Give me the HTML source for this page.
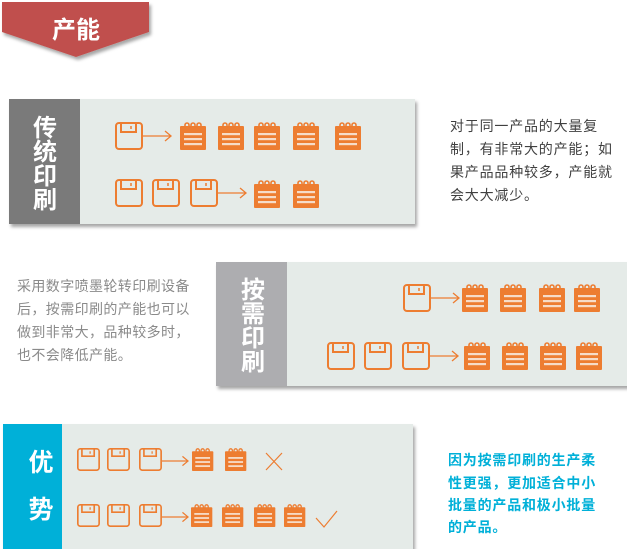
<!DOCTYPE html>
<html><head><meta charset="utf-8"><style>
html,body{margin:0;padding:0;background:#fff;width:627px;height:549px;overflow:hidden}
svg text{font-family:"Liberation Sans","Noto Sans CJK SC",sans-serif}
</style></head><body>
<svg width="627" height="549" viewBox="0 0 627 549" xmlns="http://www.w3.org/2000/svg">
<defs>
<filter id="sh" x="-5%" y="-5%" width="110%" height="115%"><feDropShadow dx="2" dy="3" stdDeviation="1.5" flood-color="#000" flood-opacity="0.35"/></filter>
<g id="fl"><rect x="1" y="1" width="26" height="26" rx="3" fill="none" stroke="#ed7d31" stroke-width="2"/><path d="M6 1V10H21V1" fill="none" stroke="#ed7d31" stroke-width="2"/><line x1="16" y1="4" x2="16" y2="7" stroke="#ed7d31" stroke-width="1.5"/></g>
<g id="np"><rect x="0" y="4" width="26" height="24" rx="1" fill="#ed7d31"/><path d="M5 6V3a2 2 0 0 1 4 0V6M11 6V3a2 2 0 0 1 4 0V6M17 6V3a2 2 0 0 1 4 0V6" fill="none" stroke="#ed7d31" stroke-width="1.6"/><rect x="4" y="11" width="18" height="2.2" fill="#f6dcc8"/><rect x="4" y="16" width="18" height="2.2" fill="#f6dcc8"/><rect x="4" y="21" width="18" height="2.2" fill="#f6dcc8"/></g>
<g id="ar"><line x1="0" y1="0" x2="28" y2="0" stroke="#ed7d31" stroke-width="1.3"/><path d="M22 -5L28 0L22 5" fill="none" stroke="#ed7d31" stroke-width="1.3"/></g>
</defs>
<polygon points="2,2 149,2 149,32 76,57 2,32" fill="#c0504d" filter="url(#sh)"/>
<text x="76" y="38" font-size="24" font-weight="bold" fill="#fff" text-anchor="middle">产能</text>

<g filter="url(#sh)"><rect x="9" y="99" width="406" height="125" fill="#e5ebe8"/></g>
<rect x="9" y="99" width="71" height="125" fill="#7a7a7a"/>
<g font-size="24" font-weight="bold" fill="#fff" text-anchor="middle">
<text x="45" y="136">传</text><text x="45" y="160">统</text><text x="45" y="184">印</text><text x="45" y="208">刷</text></g>
<use href="#fl" x="115" y="122"/><use href="#ar" x="143" y="136"/>
<use href="#np" x="180" y="122"/><use href="#np" x="218" y="122"/><use href="#np" x="254" y="122"/><use href="#np" x="293" y="122"/><use href="#np" x="335" y="122"/>
<use href="#fl" x="115" y="179"/><use href="#fl" x="152" y="179"/><use href="#fl" x="190" y="179"/><use href="#ar" x="218" y="193"/>
<use href="#np" x="254" y="180"/><use href="#np" x="293" y="180"/>
<g font-size="14" letter-spacing="0.8" fill="#404040">
<text x="450" y="131">对于同一产品的大量复</text><text x="450" y="154">制，有非常大的产能；如</text><text x="450" y="177">果产品品种较多，产能就</text><text x="450" y="200">会大大减少。</text></g>

<g filter="url(#sh)"><rect x="216" y="262" width="420" height="124" fill="#e5ebe8"/></g>
<rect x="216" y="262" width="71" height="124" fill="#adadb0"/>
<g font-size="24" font-weight="bold" fill="#fff" text-anchor="middle">
<text x="253" y="298">按</text><text x="253" y="322">需</text><text x="253" y="346">印</text><text x="253" y="370">刷</text></g>
<use href="#fl" x="403" y="284"/><use href="#ar" x="431" y="298"/>
<use href="#np" x="462" y="284"/><use href="#np" x="500" y="284"/><use href="#np" x="539" y="284"/><use href="#np" x="574" y="284"/>
<use href="#fl" x="327" y="342"/><use href="#fl" x="364" y="342"/><use href="#fl" x="402" y="342"/><use href="#ar" x="430" y="356"/>
<use href="#np" x="464" y="342"/><use href="#np" x="502" y="342"/><use href="#np" x="540" y="342"/><use href="#np" x="576" y="342"/>
<g font-size="14" letter-spacing="0.4" fill="#8a8a8a">
<text x="17" y="291">采用数字喷墨轮转印刷设备</text><text x="17" y="314">后，按需印刷的产能也可以</text><text x="17" y="337">做到非常大，品种较多时，</text><text x="17" y="360">也不会降低产能。</text></g>

<g filter="url(#sh)"><rect x="3" y="424" width="410" height="130" fill="#e5ebe8"/></g>
<rect x="3" y="424" width="59" height="130" fill="#00b0d8"/>
<g font-size="25" font-weight="bold" fill="#fff" text-anchor="middle">
<text x="41" y="471">优</text><text x="41" y="518">势</text></g>
<g transform="translate(77,448) scale(0.82)"><use href="#fl"/></g>
<g transform="translate(107,448) scale(0.82)"><use href="#fl"/></g>
<g transform="translate(139,448) scale(0.82)"><use href="#fl"/></g>
<g transform="translate(162,461) scale(0.93)"><use href="#ar"/></g>
<g transform="translate(192,448) scale(0.82)"><use href="#np"/></g>
<g transform="translate(225,448) scale(0.82)"><use href="#np"/></g>
<path d="M266 453L282 470M282 453L266 470" stroke="#ed7d31" stroke-width="1.2"/>
<g transform="translate(77,504) scale(0.82)"><use href="#fl"/></g>
<g transform="translate(107,504) scale(0.82)"><use href="#fl"/></g>
<g transform="translate(139,504) scale(0.82)"><use href="#fl"/></g>
<g transform="translate(162,517) scale(0.93)"><use href="#ar"/></g>
<g transform="translate(191,504) scale(0.82)"><use href="#np"/></g>
<g transform="translate(222,504) scale(0.82)"><use href="#np"/></g>
<g transform="translate(254,504) scale(0.82)"><use href="#np"/></g>
<g transform="translate(284,504) scale(0.82)"><use href="#np"/></g>
<path d="M316 518L324 527L337 511" fill="none" stroke="#ed7d31" stroke-width="1.2"/>
<g font-size="14" letter-spacing="0.8" font-weight="bold" fill="#00b0d8">
<text x="448" y="465">因为按需印刷的生产柔</text><text x="448" y="488">性更强，更加适合中小</text><text x="448" y="510">批量的产品和极小批量</text><text x="448" y="532">的产品。</text></g>
</svg>
</body></html>
